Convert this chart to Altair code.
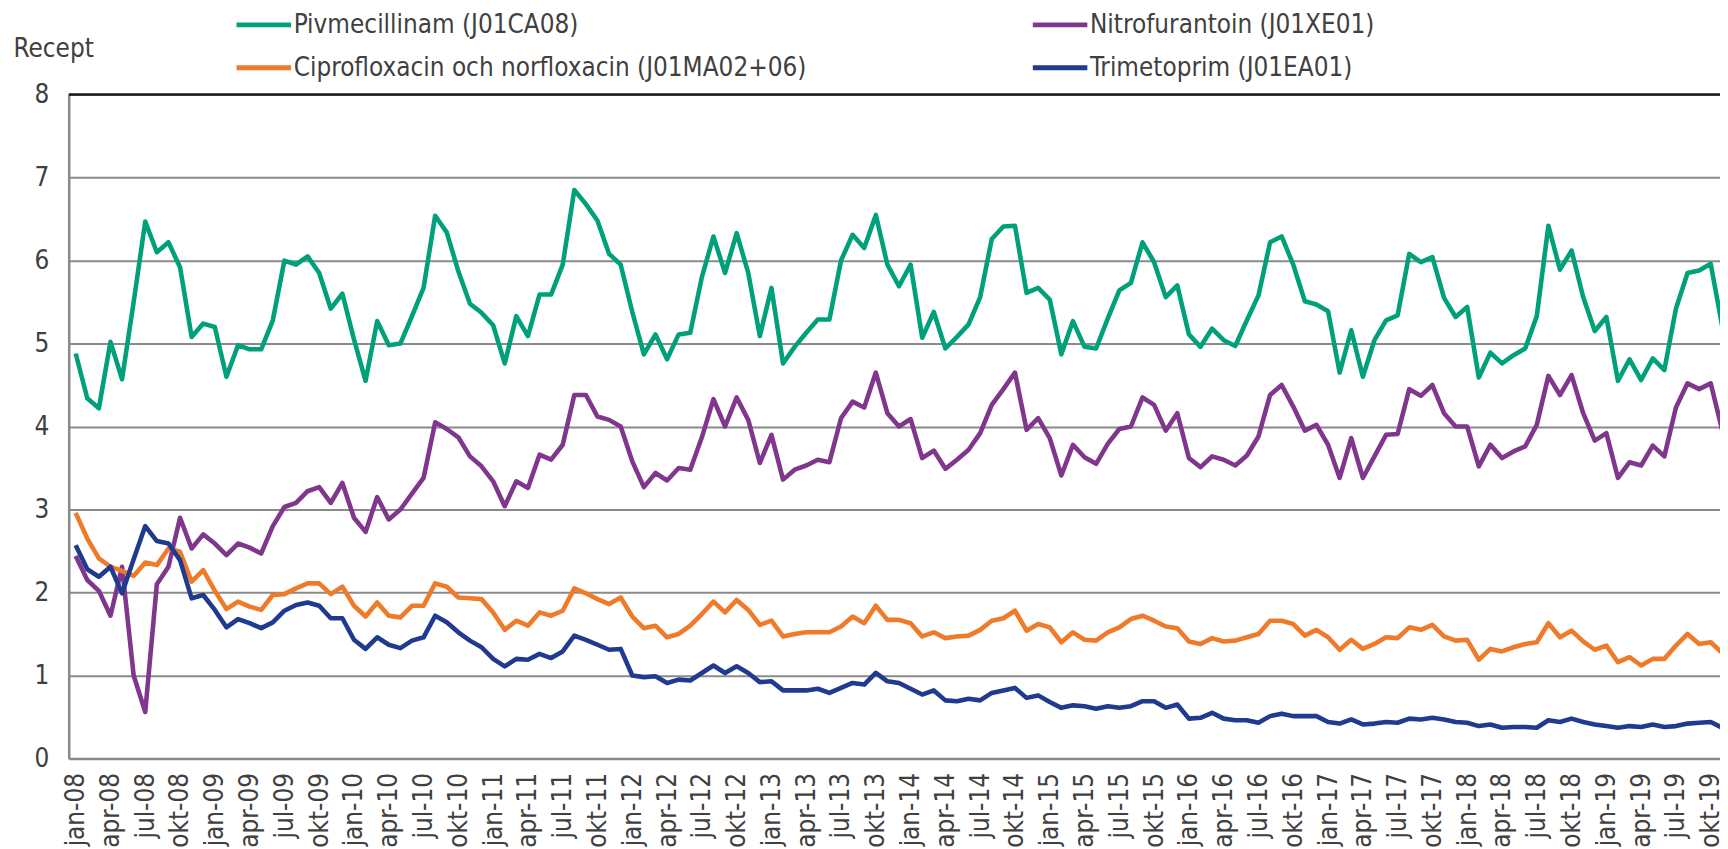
import json
import altair as alt
import pandas as pd

FONT = "DejaVu Sans Condensed, DejaVu Sans"
TEXT = "#404040"
FS = 26

series_names = [
    "Pivmecillinam (J01CA08)",
    "Nitrofurantoin (J01XE01)",
    "Ciprofloxacin och norfloxacin (J01MA02+06)",
    "Trimetoprim (J01EA01)",
]
series_colors = ["#00A07A", "#7F368C", "#EF7A2A", "#1F3A8F"]
# legend is filled column by column: this order gives rows Piv | Nitro, Cipro | Trim
legend_order = [0, 2, 1, 3]

# monthly values, jan-08 ... nov-19 (one row per year)
pivmecillinam = [
    4.88, 4.34, 4.22, 5.02, 4.57, 5.50, 6.47, 6.10, 6.22, 5.92, 5.08, 5.24,
    5.20, 4.60, 4.98, 4.93, 4.93, 5.28, 6.00, 5.95, 6.05, 5.85, 5.42, 5.60,
    5.05, 4.55, 5.27, 4.98, 5.00, 5.33, 5.67, 6.54, 6.34, 5.87, 5.48, 5.37,
    5.22, 4.76, 5.33, 5.09, 5.59, 5.59, 5.95, 6.85, 6.68, 6.48, 6.08, 5.95,
    5.38, 4.87, 5.11, 4.81, 5.11, 5.13, 5.80, 6.29, 5.85, 6.33, 5.85, 5.09,
    5.67, 4.76, 4.96, 5.13, 5.29, 5.29, 6.00, 6.31, 6.15, 6.55, 5.95, 5.69,
    5.95, 5.07, 5.38, 4.94, 5.08, 5.23, 5.56, 6.26, 6.41, 6.42, 5.61, 5.67,
    5.53, 4.87, 5.27, 4.96, 4.94, 5.30, 5.64, 5.73, 6.22, 5.98, 5.56, 5.70,
    5.11, 4.96, 5.18, 5.04, 4.97, 5.28, 5.58, 6.22, 6.29, 5.95, 5.51, 5.47,
    5.39, 4.65, 5.16, 4.60, 5.04, 5.28, 5.34, 6.08, 5.98, 6.04, 5.55, 5.32,
    5.44, 4.59, 4.89, 4.76, 4.86, 4.94, 5.33, 6.42, 5.89, 6.12, 5.56, 5.15,
    5.32, 4.55, 4.81, 4.56, 4.82, 4.68, 5.42, 5.85, 5.88, 5.96, 5.20,
]
nitrofurantoin = [
    2.44, 2.15, 2.02, 1.72, 2.31, 1.00, 0.56, 2.10, 2.31, 2.90, 2.53, 2.70,
    2.59, 2.45, 2.59, 2.54, 2.47, 2.80, 3.03, 3.08, 3.22, 3.27, 3.08, 3.32,
    2.90, 2.73, 3.15, 2.88, 3.00, 3.19, 3.38, 4.05, 3.97, 3.87, 3.64, 3.52,
    3.34, 3.04, 3.34, 3.26, 3.66, 3.60, 3.78, 4.38, 4.38, 4.12, 4.08, 4.00,
    3.58, 3.27, 3.44, 3.35, 3.50, 3.48, 3.87, 4.33, 4.00, 4.35, 4.08, 3.56,
    3.90, 3.36, 3.48, 3.53, 3.60, 3.57, 4.10, 4.30, 4.23, 4.65, 4.16, 4.00,
    4.09, 3.62, 3.71, 3.49, 3.60, 3.72, 3.92, 4.26, 4.45, 4.65, 3.96, 4.10,
    3.86, 3.41, 3.78, 3.63, 3.55, 3.79, 3.97, 4.00, 4.35, 4.26, 3.95, 4.16,
    3.62, 3.51, 3.64, 3.60, 3.53, 3.65, 3.88, 4.38, 4.50, 4.24, 3.95, 4.02,
    3.78, 3.38, 3.86, 3.38, 3.64, 3.90, 3.91, 4.45, 4.37, 4.50, 4.16, 4.00,
    4.00, 3.52, 3.78, 3.62, 3.70, 3.76, 4.02, 4.61, 4.38, 4.62, 4.16, 3.83,
    3.92, 3.38, 3.57, 3.53, 3.77, 3.64, 4.23, 4.52, 4.45, 4.52, 3.95,
]
ciprofloxacin = [
    2.96, 2.65, 2.41, 2.31, 2.26, 2.20, 2.36, 2.33, 2.53, 2.49, 2.13, 2.27,
    2.02, 1.80, 1.89, 1.83, 1.79, 1.97, 1.98, 2.05, 2.11, 2.11, 1.98, 2.07,
    1.84, 1.71, 1.88, 1.72, 1.70, 1.84, 1.84, 2.11, 2.07, 1.94, 1.93, 1.92,
    1.76, 1.55, 1.66, 1.60, 1.76, 1.72, 1.78, 2.05, 1.99, 1.92, 1.86, 1.94,
    1.71, 1.57, 1.60, 1.46, 1.50, 1.60, 1.74, 1.89, 1.76, 1.91, 1.79, 1.61,
    1.66, 1.47, 1.50, 1.52, 1.52, 1.52, 1.59, 1.71, 1.63, 1.84, 1.67, 1.67,
    1.63, 1.47, 1.52, 1.45, 1.47, 1.48, 1.55, 1.66, 1.69, 1.78, 1.54, 1.62,
    1.58, 1.40, 1.52, 1.43, 1.42, 1.52, 1.58, 1.68, 1.72, 1.66, 1.59, 1.57,
    1.41, 1.38, 1.45, 1.41, 1.42, 1.46, 1.50, 1.66, 1.66, 1.62, 1.48, 1.55,
    1.46, 1.31, 1.43, 1.32, 1.38, 1.46, 1.45, 1.58, 1.55, 1.61, 1.47, 1.42,
    1.43, 1.19, 1.32, 1.29, 1.34, 1.38, 1.40, 1.63, 1.46, 1.54, 1.41, 1.31,
    1.36, 1.16, 1.22, 1.12, 1.20, 1.20, 1.36, 1.50, 1.38, 1.40, 1.27,
]
trimetoprim = [
    2.57, 2.28, 2.19, 2.31, 1.99, 2.40, 2.80, 2.62, 2.59, 2.39, 1.93, 1.97,
    1.79, 1.58, 1.68, 1.63, 1.57, 1.64, 1.78, 1.85, 1.88, 1.84, 1.69, 1.69,
    1.43, 1.32, 1.46, 1.37, 1.33, 1.42, 1.46, 1.72, 1.64, 1.52, 1.42, 1.34,
    1.20, 1.11, 1.20, 1.19, 1.26, 1.21, 1.29, 1.48, 1.43, 1.37, 1.31, 1.32,
    1.00, 0.98, 0.99, 0.91, 0.95, 0.94, 1.03, 1.12, 1.03, 1.11, 1.03, 0.92,
    0.93, 0.82, 0.82, 0.82, 0.84, 0.79, 0.85, 0.91, 0.89, 1.03, 0.93, 0.91,
    0.84, 0.77, 0.82, 0.70, 0.69, 0.72, 0.70, 0.79, 0.82, 0.85, 0.73, 0.76,
    0.68, 0.61, 0.64, 0.63, 0.60, 0.63, 0.61, 0.63, 0.69, 0.69, 0.61, 0.65,
    0.48, 0.49, 0.55, 0.48, 0.46, 0.46, 0.43, 0.51, 0.54, 0.51, 0.51, 0.51,
    0.44, 0.42, 0.47, 0.41, 0.42, 0.44, 0.43, 0.48, 0.47, 0.49, 0.47, 0.44,
    0.43, 0.39, 0.41, 0.37, 0.38, 0.38, 0.37, 0.46, 0.44, 0.48, 0.44, 0.41,
    0.39, 0.37, 0.39, 0.38, 0.41, 0.38, 0.39, 0.42, 0.43, 0.44, 0.37,
]

tick_labels = [
    "jan-08", "apr-08", "jul-08", "okt-08", "jan-09", "apr-09", "jul-09", "okt-09",
    "jan-10", "apr-10", "jul-10", "okt-10", "jan-11", "apr-11", "jul-11", "okt-11",
    "jan-12", "apr-12", "jul-12", "okt-12", "jan-13", "apr-13", "jul-13", "okt-13",
    "jan-14", "apr-14", "jul-14", "okt-14", "jan-15", "apr-15", "jul-15", "okt-15",
    "jan-16", "apr-16", "jul-16", "okt-16", "jan-17", "apr-17", "jul-17", "okt-17",
    "jan-18", "apr-18", "jul-18", "okt-18", "jan-19", "apr-19", "jul-19", "okt-19",
]
tick_values = [3 * k for k in range(len(tick_labels))]
y_ticks = [0, 1, 2, 3, 4, 5, 6, 7, 8]

rows = []
for name, vals in zip(series_names, [pivmecillinam, nitrofurantoin, ciprofloxacin, trimetoprim]):
    for i, v in enumerate(vals):
        rows.append({"m": i, "serie": name, "v": v})
df = pd.DataFrame(rows)

domain = [series_names[k] for k in legend_order]
colors = [series_colors[k] for k in legend_order]

label_expr = json.dumps(tick_labels) + "[round(datum.value / 3)]"

lines = alt.Chart(df).mark_line(strokeWidth=4.6, clip=True, strokeJoin="round").encode(
    x=alt.X(
        "m:Q",
        scale=alt.Scale(domain=[-0.6, 141.8], nice=False, zero=False),
        axis=alt.Axis(
            values=tick_values, labelExpr=label_expr, labelAngle=-90,
            labelAlign="right", labelBaseline="middle", labelPadding=14,
            labelFontSize=FS, labelColor=TEXT, labelFont=FONT,
            labelOverlap=False, labelFlush=False, labelBound=False,
            ticks=False, grid=False, domainColor="#898989", domainWidth=2.5,
            title=None,
        ),
    ),
    y=alt.Y(
        "v:Q",
        scale=alt.Scale(domain=[0, 8], nice=False),
        axis=alt.Axis(
            values=y_ticks, format="d", ticks=False, labelPadding=20,
            labelFontSize=FS, labelColor=TEXT, labelFont=FONT,
            grid=True, gridColor="#8a8a8a", gridWidth=2,
            domainColor="#898989", domainWidth=2.5,
            title="Recept", titleAngle=0, titleX=-56, titleY=-46,
            titleAlign="left", titleBaseline="middle", titleFontWeight="normal",
            titleFontSize=FS, titleColor=TEXT, titleFont=FONT,
        ),
    ),
    color=alt.Color(
        "serie:N",
        scale=alt.Scale(domain=domain, range=colors),
        legend=alt.Legend(
            orient="none", legendX=166, legendY=-81, columns=2, title=None,
            symbolType="stroke", symbolSize=3000, symbolStrokeWidth=5,
            labelFontSize=FS, labelColor=TEXT, labelFont=FONT, labelOffset=0,
            labelLimit=2000, columnPadding=224, rowPadding=17, clipHeight=22,
            padding=0,
        ),
    ),
)

top_line = alt.Chart(pd.DataFrame({"k": [0]})).mark_rule(color="#1a1a1a", strokeWidth=2.5).encode(
    y=alt.datum(8)
)

chart = (
    alt.layer(lines, top_line)
    .properties(
        width=1659, height=667,
        padding={"left": 61, "top": 85, "right": 0, "bottom": 89},
        autosize=alt.AutoSizeParams(type="none"),
        background="white",
    )
    .configure(font=FONT)
    .configure_view(stroke=None)
)

chart.save("out.html", embed_options={"renderer": "svg", "actions": False})
